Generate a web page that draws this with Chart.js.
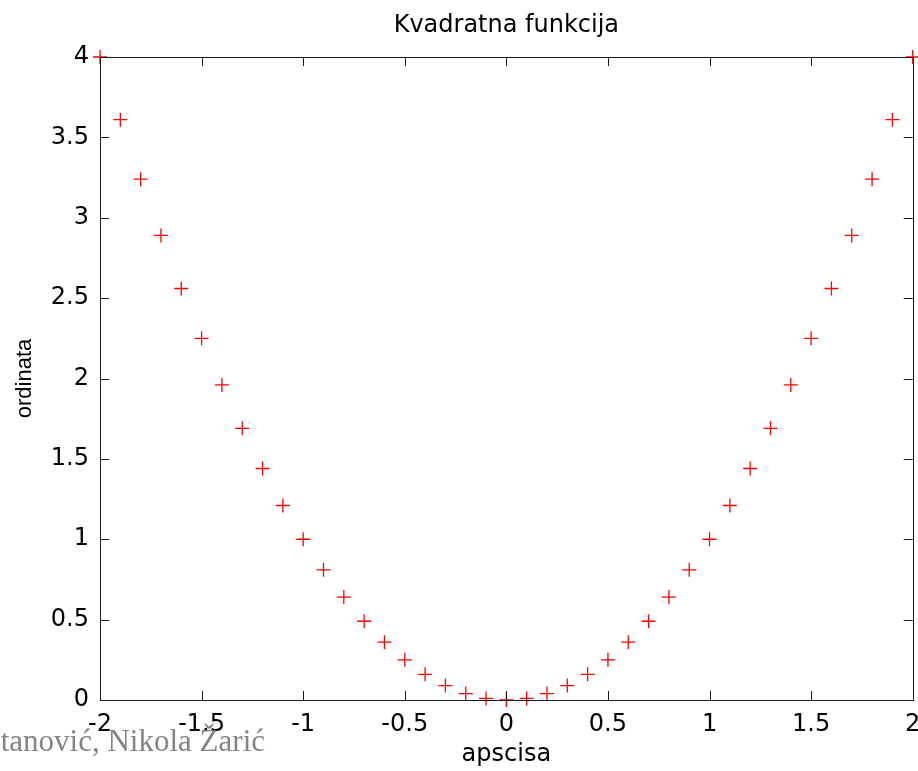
<!DOCTYPE html>
<html>
<head>
<meta charset="utf-8">
<script src="https://cdn.jsdelivr.net/npm/chart.js@4.4.0/dist/chart.umd.min.js"></script>
<style>
  html, body { margin: 0; padding: 0; background: #fff; overflow: hidden; }
  #wrap { width: 918px; height: 771px; overflow: hidden; }
</style>
</head>
<body>
<!-- canvas is a few px wider than the window so the right edge "2" gets cut like in the original -->
<div id="wrap"><canvas id="chart" width="921" height="771"></canvas></div>
<script>
// x = -2:0.1:2 and the squares
const xValues = [-2, -1.9, -1.8, -1.7, -1.6, -1.5, -1.4, -1.3, -1.2, -1.1, -1,
  -0.9, -0.8, -0.7, -0.6, -0.5, -0.4, -0.3, -0.2, -0.1, 0,
  0.1, 0.2, 0.3, 0.4, 0.5, 0.6, 0.7, 0.8, 0.9, 1,
  1.1, 1.2, 1.3, 1.4, 1.5, 1.6, 1.7, 1.8, 1.9, 2];
const yValues = [4, 3.61, 3.24, 2.89, 2.56, 2.25, 1.96, 1.69, 1.44, 1.21, 1,
  0.81, 0.64, 0.49, 0.36, 0.25, 0.16, 0.09, 0.04, 0.01, 0,
  0.01, 0.04, 0.09, 0.16, 0.25, 0.36, 0.49, 0.64, 0.81, 1,
  1.21, 1.44, 1.69, 1.96, 2.25, 2.56, 2.89, 3.24, 3.61, 4];
const xTicks = [-2, -1.5, -1, -0.5, 0, 0.5, 1, 1.5, 2];
const yTicks = [0, 0.5, 1, 1.5, 2, 2.5, 3, 3.5, 4];

const FONT = "'DejaVu Sans', sans-serif";
const TICK_LEN = 9;

// MATLAB style box with inward ticks on all four sides
const boxPlugin = {
  id: 'matlabBox',
  afterDatasetsDraw(chart) {
    const { ctx, chartArea: a, scales } = chart;
    ctx.save();
    ctx.strokeStyle = '#1a1a1a';
    ctx.lineWidth = 1;
    ctx.beginPath();
    xTicks.forEach((v) => {
      const px = Math.round(scales.x.getPixelForValue(v)) + 0.5;
      ctx.moveTo(px, a.bottom);
      ctx.lineTo(px, a.bottom - TICK_LEN);
      ctx.moveTo(px, a.top);
      ctx.lineTo(px, a.top + TICK_LEN);
    });
    yTicks.forEach((v) => {
      const py = Math.round(scales.y.getPixelForValue(v)) + 0.5;
      ctx.moveTo(a.left, py);
      ctx.lineTo(a.left + TICK_LEN, py);
      ctx.moveTo(a.right, py);
      ctx.lineTo(a.right - TICK_LEN, py);
    });
    ctx.stroke();
    ctx.strokeRect(Math.round(a.left) + 0.5, Math.round(a.top) + 0.5,
      Math.round(a.right - a.left), Math.round(a.bottom - a.top));
    ctx.restore();
  },
  afterDraw(chart) {
    const { ctx } = chart;
    ctx.save();
    ctx.font = "31px 'Liberation Serif', 'Times New Roman', serif";
    ctx.fillStyle = 'rgba(110, 110, 110, 0.85)';
    ctx.textAlign = 'right';
    ctx.textBaseline = 'alphabetic';
    ctx.fillText('Stanović, Nikola Žarić', 265, 751);
    ctx.restore();
  },
};

const chart = new Chart(document.getElementById('chart'), {
  type: 'scatter',
  data: {
    datasets: [{
      data: xValues.map((x, i) => ({ x, y: yValues[i] })),
      pointStyle: 'cross',
      pointRadius: 7,
      pointHoverRadius: 7,
      borderColor: '#ff0000',
      backgroundColor: '#ff0000',
      borderWidth: 1.3,
      clip: false,
    }],
  },
  options: {
    responsive: false,
    animation: false,
    events: [],
    layout: { padding: { left: 0, right: 0, top: 0, bottom: 0 } },
    plugins: {
      legend: { display: false },
      tooltip: { enabled: false },
      title: {
        display: true,
        fullSize: false,
        text: 'Kvadratna funkcija',
        color: '#000',
        font: { family: FONT, size: 24, weight: 'normal' },
        padding: { top: 11, bottom: 17.2 },
      },
    },
    scales: {
      x: {
        type: 'linear',
        min: -2,
        max: 2,
        afterBuildTicks: (scale) => { scale.ticks = xTicks.map((v) => ({ value: v })); },
        afterFit: (scale) => {
          scale.height = 71;
          scale.paddingLeft = 0;
          scale.paddingRight = 0;
        },
        grid: { display: false, drawTicks: false },
        border: { display: false },
        ticks: {
          autoSkip: false,
          maxRotation: 0,
          padding: 10,
          color: '#000',
          font: { family: FONT, size: 24 },
          callback: (v) => String(v),
        },
        title: {
          display: true,
          text: 'apscisa',
          color: '#000',
          font: { family: FONT, size: 24 },
          padding: { top: 0, bottom: 2 },
        },
      },
      y: {
        type: 'linear',
        min: 0,
        max: 4,
        afterBuildTicks: (scale) => { scale.ticks = yTicks.map((v) => ({ value: v })); },
        afterFit: (scale) => {
          scale.width = 100;
          scale.paddingTop = 0;
          scale.paddingBottom = 0;
        },
        grid: { display: false, drawTicks: false },
        border: { display: false },
        ticks: {
          autoSkip: false,
          padding: 11,
          color: '#000',
          font: { family: FONT, size: 24 },
          callback: (v) => String(v),
        },
        title: {
          display: true,
          text: 'ordinata',
          color: '#000',
          font: { family: "'Liberation Sans', Arial, sans-serif", size: 22 },
          padding: { top: 12, bottom: 0 },
        },
      },
    },
  },
  plugins: [boxPlugin],
});
</script>
</body>
</html>
